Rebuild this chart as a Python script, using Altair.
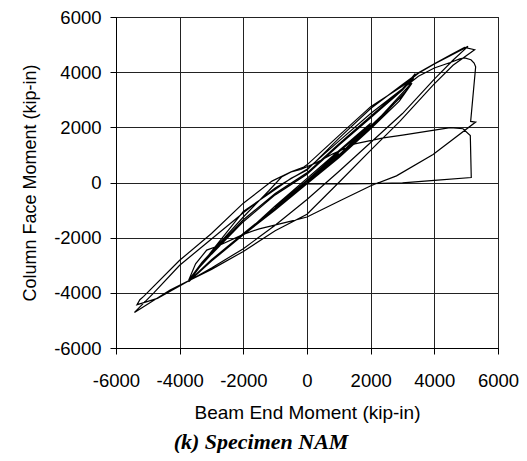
import altair as alt
import pandas as pd

# Branches of the hysteresis record (beam end moment x, column face moment y), kip-in
# early small cycles
seg0_x = [0, 1000, 0, -1000, 0, 1000, 2000, 1000, 0, -1000, -2000, -1000, 0, 1000, 2000, 1000, 0]
seg0_y = [0, 1050, 60, -900, 80, 1100, 2100, 950, -50, -1000, -1900, -850, 150, 1150, 2150, 980, 0]

seg1_x = [0, 1000, 2000, 3000, 3300]
seg1_y = [0, 1000, 2050, 3150, 3600]

seg2_x = [3300, 2900, 2000, 1000, 0, -1000, -2000, -3000, -3720]
seg2_y = [3600, 2950, 1950, 900, -50, -1000, -1900, -2850, -3600]

seg3_x = [-3720, -3500, -3000, -2000, -1000, 0, 1000, 2000, 3000, 3400]
seg3_y = [-3600, -3200, -2550, -1350, -400, 350, 1400, 2400, 3400, 3950]

seg4_x = [3400, 3200, 2000, 1000, 0, -1000, -2000, -3000, -3700]
seg4_y = [3950, 3500, 2000, 980, 0, -920, -1850, -2800, -3560]

seg4b_x = [-3700, -3400, -3000, -2000, -1000, 0, 1000, 2000, 3000, 3350]
seg4b_y = [-3560, -3100, -2600, -1420, -450, 300, 1350, 2350, 3350, 3800]

seg4c_x = [3350, 3100, 2000, 1000, 0, -1000, -2000, -3000, -3700]
seg4c_y = [3800, 3300, 1950, 950, -30, -950, -1880, -2830, -3580]

seg5_x = [-3700, -3300, -3000, -2000, -1000, -500, 0, 1000, 2000, 3000, 3500, 4000, 4500, 5058]
seg5_y = [-3580, -2950, -2500, -1050, -250, 150, 450, 1600, 2680, 3550, 3980, 4300, 4600, 4934]

seg6_x = [5058, 4600, 4000, 3000, 2000, 1000, 0, -1000, -2000, -3000, -4000, -4700, -5200, -5340]
seg6_y = [4934, 4450, 3750, 2500, 1450, 400, -614, -1550, -2400, -3100, -3750, -4200, -4380, -4430]

seg7_x = [-5340, -5250, -5130, -4000, -3000, -2000, -1100, -500, -100, 0, 1000, 2000, 3000, 3500, 4000, 4500, 4950, 5266]
seg7_y = [-4430, -4250, -4130, -2820, -1850, -750, 50, 390, 560, 640, 1700, 2750, 3500, 3960, 4300, 4620, 4900, 4814]

seg8_x = [5266, 4587, 3960, 2915, 2027, 1000, 0, -1000, -2000, -3000, -4300, -5420]
seg8_y = [4814, 4251, 3533, 2216, 1200, 0, -1150, -1750, -2500, -3150, -3900, -4710]

seg9_x = [-5420, -4820, -4000, -3000, -2000, -1000, 0, 1000, 2000, 3000, 3500, 4000, 4500, 4800,
          4953, 5150, 5250, 5298, 5141, 5298, 3960, 2811, 2006, 1034, 0, -500, -1500, -2000,
          -2800, -3150, -3500, -3720]
seg9_y = [-4710, -4010, -3000, -2050, -1100, -200, 480, 1500, 2500, 3400, 3850, 4150, 4350, 4480,
          4520, 4450, 4330, 4192, 2216, 2192, 1018, 240, -120, -659, -1250, -1400, -1680, -1880,
          -2300, -2450, -2950, -3550]

seg10_x = [-3720, -3300, -2000, -1200, -800, -500, -200, 300, 800, 1500, 2400, 3000, 4000, 4500,
           4900, 5130, 5160, 4000, 3000, 2000, 1000, 0]
seg10_y = [-3550, -2900, -1250, -300, 200, 380, 470, 720, 1030, 1400, 1620, 1720, 1900, 1990,
           1950, 1700, 180, 80, -10, -40, -50, -40]

tick_values = [-6000, -4000, -2000, 0, 2000, 4000, 6000]

xs, ys = [], []
for sx, sy in [(seg0_x, seg0_y), (seg1_x, seg1_y), (seg2_x, seg2_y), (seg3_x, seg3_y),
               (seg4_x, seg4_y), (seg4b_x, seg4b_y), (seg4c_x, seg4c_y),
               (seg5_x, seg5_y), (seg6_x, seg6_y), (seg7_x, seg7_y), (seg8_x, seg8_y),
               (seg9_x, seg9_y), (seg10_x, seg10_y)]:
    xs.extend(sx)
    ys.extend(sy)
df = pd.DataFrame({"x": xs, "y": ys, "i": list(range(len(xs)))})

axis_common = dict(
    values=tick_values,
    labelExpr="'' + datum.value",
    labelOverlap=False,
    labelFlush=False,
    grid=True,
    gridColor="#222222",
    gridWidth=1,
    domainColor="black",
    tickColor="black",
    tickSize=6,
    labelFont="Liberation Sans",
    labelFontSize=18.5,
    labelColor="black",
    titleFont="Liberation Sans",
    titleFontWeight="normal",
    titleColor="black",
)

chart = alt.Chart(df).mark_line(color="black", strokeWidth=1.2).encode(
    x=alt.X("x:Q", scale=alt.Scale(domain=[-6000, 6000], nice=False),
            axis=alt.Axis(title="Beam End Moment (kip-in)", labelPadding=17, titlePadding=14,
                          titleFontSize=19, **axis_common)),
    y=alt.Y("y:Q", scale=alt.Scale(domain=[-6000, 6000], nice=False),
            axis=alt.Axis(title="Column Face Moment (kip-in)", labelPadding=9, titlePadding=14,
                          titleFontSize=18, **axis_common)),
    order="i:Q",
).properties(
    width=382,
    height=331,
    title=alt.Title("(k) Specimen NAM", orient="bottom", font="Liberation Serif", fontSize=22,
                    fontWeight="bold", fontStyle="italic", color="black", dx=-46, offset=9),
    autosize=alt.AutoSizeParams(type="none"),
    padding={"left": 108, "top": 9, "right": 21, "bottom": 105},
).configure_view(stroke="black", strokeWidth=1)

chart.save("out.html", embed_options={"renderer": "svg", "actions": False})
